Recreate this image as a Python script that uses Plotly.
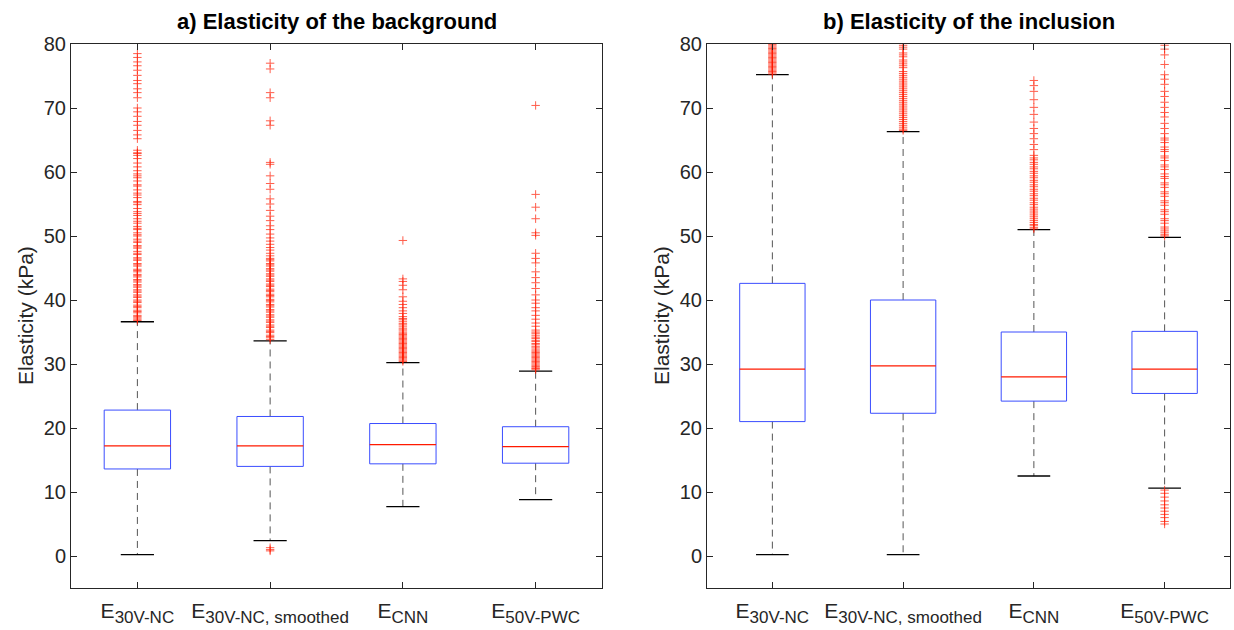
import plotly.graph_objects as go

W, H = 1234, 630

SUB = "<span style='font-size:17px'>{}</span>"
categories = ["E<sub>" + SUB.format("30V-NC") + "</sub>",
              "E<sub>" + SUB.format("30V-NC, smoothed") + "</sub>",
              "E<sub>" + SUB.format("CNN") + "</sub>",
              "E<sub>" + SUB.format("50V-PWC") + "</sub>"]
y_ticks = [0, 10, 20, 30, 40, 50, 60, 70, 80]

# a) background
bg_q1 = [13.6, 14.0, 14.4, 14.5]
bg_median = [17.2, 17.2, 17.4, 17.1]
bg_q3 = [22.8, 21.8, 20.7, 20.2]
bg_lower = [0.2, 2.4, 7.7, 8.8]
bg_upper = [36.6, 33.6, 30.2, 28.9]

bg_out_1 = [78.5, 77.9, 77.2, 76.6, 75.9, 75.1, 74.3, 73.8, 73.0, 72.4, 71.6, 70.0, 69.4, 68.7, 67.9,
            67.3, 66.5, 65.8, 65.2, 63.4, 63.0, 62.6, 62.1, 60.8, 60.2, 59.7, 59.1, 58.6, 57.8, 57.2,
            56.7, 56.0, 55.4, 54.9, 54.3, 53.8, 53.2, 52.7, 52.0, 51.5, 51.0, 50.5, 50.0, 49.5, 49.0,
            48.5, 48.1, 47.6, 47.1, 46.6, 46.2, 45.7, 45.3, 44.8, 44.4, 44.0, 43.6, 43.2, 42.8, 42.4,
            42.0, 41.6, 41.2, 40.8, 40.4, 40.0, 39.6, 39.2, 38.8, 38.4, 38.0, 37.6, 37.2, 36.8,
            62.9, 61.4, 59.4, 58.0, 56.4, 55.2, 53.5, 52.3, 51.2, 50.2, 49.2, 48.3, 47.3, 46.4, 45.5,
            44.6, 43.8, 43.0, 42.2, 41.4, 40.6, 39.8, 39.0, 38.2, 37.4, 37.0]
bg_out_2 = [77.0, 76.1, 72.4, 71.6, 68.0, 67.3, 61.5, 61.2, 59.4, 58.2, 57.3, 55.8, 55.0, 54.0, 53.1,
            52.4, 51.6, 51.0, 50.3, 49.7, 49.2, 48.7, 48.2, 47.8, 47.3, 46.9, 46.5, 46.1, 45.7, 45.3,
            44.9, 44.5, 44.1, 43.7, 43.3, 42.9, 42.5, 42.1, 41.7, 41.3, 40.9, 40.5, 40.1, 39.7, 39.3,
            38.9, 38.5, 38.1, 37.7, 37.3, 36.9, 36.5, 36.1, 35.7, 35.3, 34.9, 34.5, 34.1, 33.8,
            46.3, 45.5, 44.7, 43.9, 43.1, 42.3, 41.5, 40.7, 39.9, 39.1, 38.3, 37.5, 36.7, 35.9, 35.1,
            34.3, 0.8, 1.0, 1.3]
bg_out_3 = [49.3, 43.3, 42.9, 42.3, 41.6, 40.5, 39.8, 39.3, 38.8, 38.3, 37.9, 37.4, 36.9, 36.3, 35.8,
            35.3, 34.8, 34.4, 34.0, 33.6, 33.2, 32.8, 32.4, 32.0, 31.6, 31.2, 30.8, 30.4,
            37.1, 36.6, 36.1, 35.5, 35.0, 34.6, 34.2, 33.8, 33.4, 33.0, 32.6, 32.2, 31.8, 31.4, 31.0, 30.6]
bg_out_4 = [70.4, 56.5, 54.5, 52.7, 50.5, 50.1, 47.3, 46.5, 45.8, 44.4, 43.5, 42.7, 41.8, 40.8, 40.0,
            39.5, 38.8, 38.3, 37.6, 37.0, 36.4, 35.9, 35.3, 34.8, 34.2, 33.7, 33.2, 32.7, 32.2, 31.8,
            31.4, 31.0, 30.6, 30.2, 29.8, 29.4, 29.1,
            35.0, 34.5, 34.0, 33.5, 33.0, 32.5, 32.0, 31.6, 31.2, 30.8, 30.4, 30.0, 29.6, 29.3]

# b) inclusion
inc_q1 = [21.0, 22.3, 24.2, 25.4]
inc_median = [29.2, 29.7, 28.0, 29.2]
inc_q3 = [42.6, 40.0, 35.0, 35.1]
inc_lower = [0.2, 0.2, 12.5, 10.6]
inc_upper = [75.2, 66.3, 51.0, 49.8]

inc_out_1 = [79.9, 79.5, 79.1, 78.7, 78.3, 77.9, 77.5, 77.1, 76.7, 76.3, 75.9, 75.5,
             79.7, 79.3, 78.9, 78.5, 78.1, 77.7, 77.3, 76.9, 76.5, 76.1, 75.7, 75.3]
inc_out_2 = [79.8, 79.2, 78.6, 78.0, 77.5, 76.9, 76.3, 75.7, 75.1, 74.5, 73.9, 73.3, 72.7, 72.1, 71.5,
             70.9, 70.3, 69.7, 69.1, 68.5, 67.9, 67.3, 66.7,
             79.5, 78.3, 77.2, 76.6, 75.4, 74.8, 74.2, 73.6, 73.0, 72.4, 71.8, 71.2, 70.6, 70.0,
             69.4, 68.8, 68.2, 67.6, 67.0, 66.5]
inc_out_3 = [74.3, 73.5, 72.6, 71.3, 70.1, 69.0, 67.8, 66.8, 66.0, 65.2, 64.3, 63.5, 62.6, 61.9, 61.2,
             60.5, 59.8, 59.1, 58.4, 57.7, 57.0, 56.3, 55.6, 54.9, 54.2, 53.6, 53.0, 52.4, 51.8, 51.3,
             62.2, 61.5, 60.8, 60.1, 59.4, 58.7, 58.0, 57.3, 56.6, 55.9, 55.2, 54.5, 53.9, 53.3, 52.7,
             52.1, 51.6, 51.1]
inc_out_4 = [79.8, 79.2, 78.3, 76.8, 75.2, 74.5, 73.7, 72.6, 71.8, 70.9, 70.1, 69.3, 68.6, 67.6, 66.8,
             66.0, 65.3, 64.6, 63.9, 63.2, 62.5, 61.8, 61.1, 60.4, 59.7, 59.0, 58.3, 57.6, 56.9, 56.2,
             55.5, 54.8, 54.1, 53.4, 52.7, 52.0, 51.4, 50.8, 50.2,
             65.0, 63.5, 62.2, 60.8, 59.3, 58.0, 56.6, 55.2, 53.8, 52.4, 51.1, 50.5, 50.0,
             10.3, 9.8, 9.2, 8.6, 8.0, 7.5, 7.0, 6.5, 6.0, 5.4, 5.0]

BOX_HALF = 0.25
CAP_HALF = 0.125
BLUE = "#3a4dff"
RED = "#ff1a00"
AXC = "#262626"
FONT = "Liberation Sans, Arial, Helvetica, sans-serif"

fig = go.Figure()


def add_boxes(q1, med, q3, lo, hi, outs, xa, ya):
    wx, wy, cx, cy, bx, by, mx, my = [], [], [], [], [], [], [], []
    for i in range(len(q1)):
        p = i + 1
        wx += [p, p, None, p, p, None]
        wy += [q3[i], hi[i], None, q1[i], lo[i], None]
        cx += [p - CAP_HALF, p + CAP_HALF, None, p - CAP_HALF, p + CAP_HALF, None]
        cy += [hi[i], hi[i], None, lo[i], lo[i], None]
        bx += [p - BOX_HALF, p + BOX_HALF, p + BOX_HALF, p - BOX_HALF, p - BOX_HALF, None]
        by += [q1[i], q1[i], q3[i], q3[i], q1[i], None]
        mx += [p - BOX_HALF, p + BOX_HALF, None]
        my += [med[i], med[i], None]
    common = dict(xaxis=xa, yaxis=ya, showlegend=False, hoverinfo="skip", mode="lines")
    fig.add_trace(go.Scatter(x=wx, y=wy, line=dict(color="#555555", width=1, dash="7px,5px"), **common))
    fig.add_trace(go.Scatter(x=cx, y=cy, line=dict(color="#000000", width=1.3), **common))
    fig.add_trace(go.Scatter(x=bx, y=by, line=dict(color=BLUE, width=1), **common))
    fig.add_trace(go.Scatter(x=mx, y=my, line=dict(color=RED, width=1.2), **common))
    for i, o in enumerate(outs):
        fig.add_trace(go.Scatter(
            x=[i + 1] * len(o), y=o, mode="markers", xaxis=xa, yaxis=ya, showlegend=False,
            marker=dict(symbol="cross-thin", size=6, line=dict(color=RED, width=1), opacity=0.7),
            cliponaxis=True,
        ))


add_boxes(bg_q1, bg_median, bg_q3, bg_lower, bg_upper,
          [bg_out_1, bg_out_2, bg_out_3, bg_out_4], "x", "y")
add_boxes(inc_q1, inc_median, inc_q3, inc_lower, inc_upper,
          [inc_out_1, inc_out_2, inc_out_3, inc_out_4], "x2", "y2")

L1, R1 = 71, 602
L2, R2 = 707, 1230
TOP, BOT = 44, 588
d1 = [L1 / W, R1 / W]
d2 = [L2 / W, R2 / W]
dy = [1 - BOT / H, 1 - TOP / H]

xax = dict(range=[0.5, 4.5], tickvals=[1, 2, 3, 4], ticktext=categories, showgrid=False, zeroline=False,
           showline=True, mirror="allticks", linecolor=AXC, linewidth=1, ticks="inside", ticklen=6,
           tickcolor=AXC, tickfont=dict(family=FONT, size=21, color=AXC), automargin=False,
           ticklabelstandoff=4)
yax = dict(range=[-5, 80], tickvals=y_ticks, showgrid=False, zeroline=False,
           showline=True, mirror="allticks", linecolor=AXC, linewidth=1, ticks="inside", ticklen=6,
           tickcolor=AXC, tickfont=dict(family=FONT, size=20, color=AXC), automargin=False)

ann_common = dict(xref="paper", yref="paper", showarrow=False, xanchor="center", yanchor="middle")
fig.update_layout(
    width=W, height=H,
    margin=dict(l=0, r=0, t=0, b=0, autoexpand=False),
    paper_bgcolor="white", plot_bgcolor="white",
    xaxis=dict(xax, domain=d1, anchor="y"),
    yaxis=dict(yax, domain=dy, anchor="x"),
    xaxis2=dict(xax, domain=d2, anchor="y2"),
    yaxis2=dict(yax, domain=dy, anchor="x2"),
    annotations=[
        dict(text="<b>a) Elasticity of the background</b>", x=(d1[0] + d1[1]) / 2, y=1 - 22 / H,
             font=dict(family=FONT, size=22, color="black"), **ann_common),
        dict(text="<b>b) Elasticity of the inclusion</b>", x=(d2[0] + d2[1]) / 2, y=1 - 22 / H,
             font=dict(family=FONT, size=22, color="black"), **ann_common),
        dict(text="Elasticity (kPa)", x=25 / W, y=(dy[0] + dy[1]) / 2, textangle=-90,
             font=dict(family=FONT, size=21, color=AXC), **ann_common),
        dict(text="Elasticity (kPa)", x=661 / W, y=(dy[0] + dy[1]) / 2, textangle=-90,
             font=dict(family=FONT, size=21, color=AXC), **ann_common),
    ],
)

fig.write_html("out.html")
